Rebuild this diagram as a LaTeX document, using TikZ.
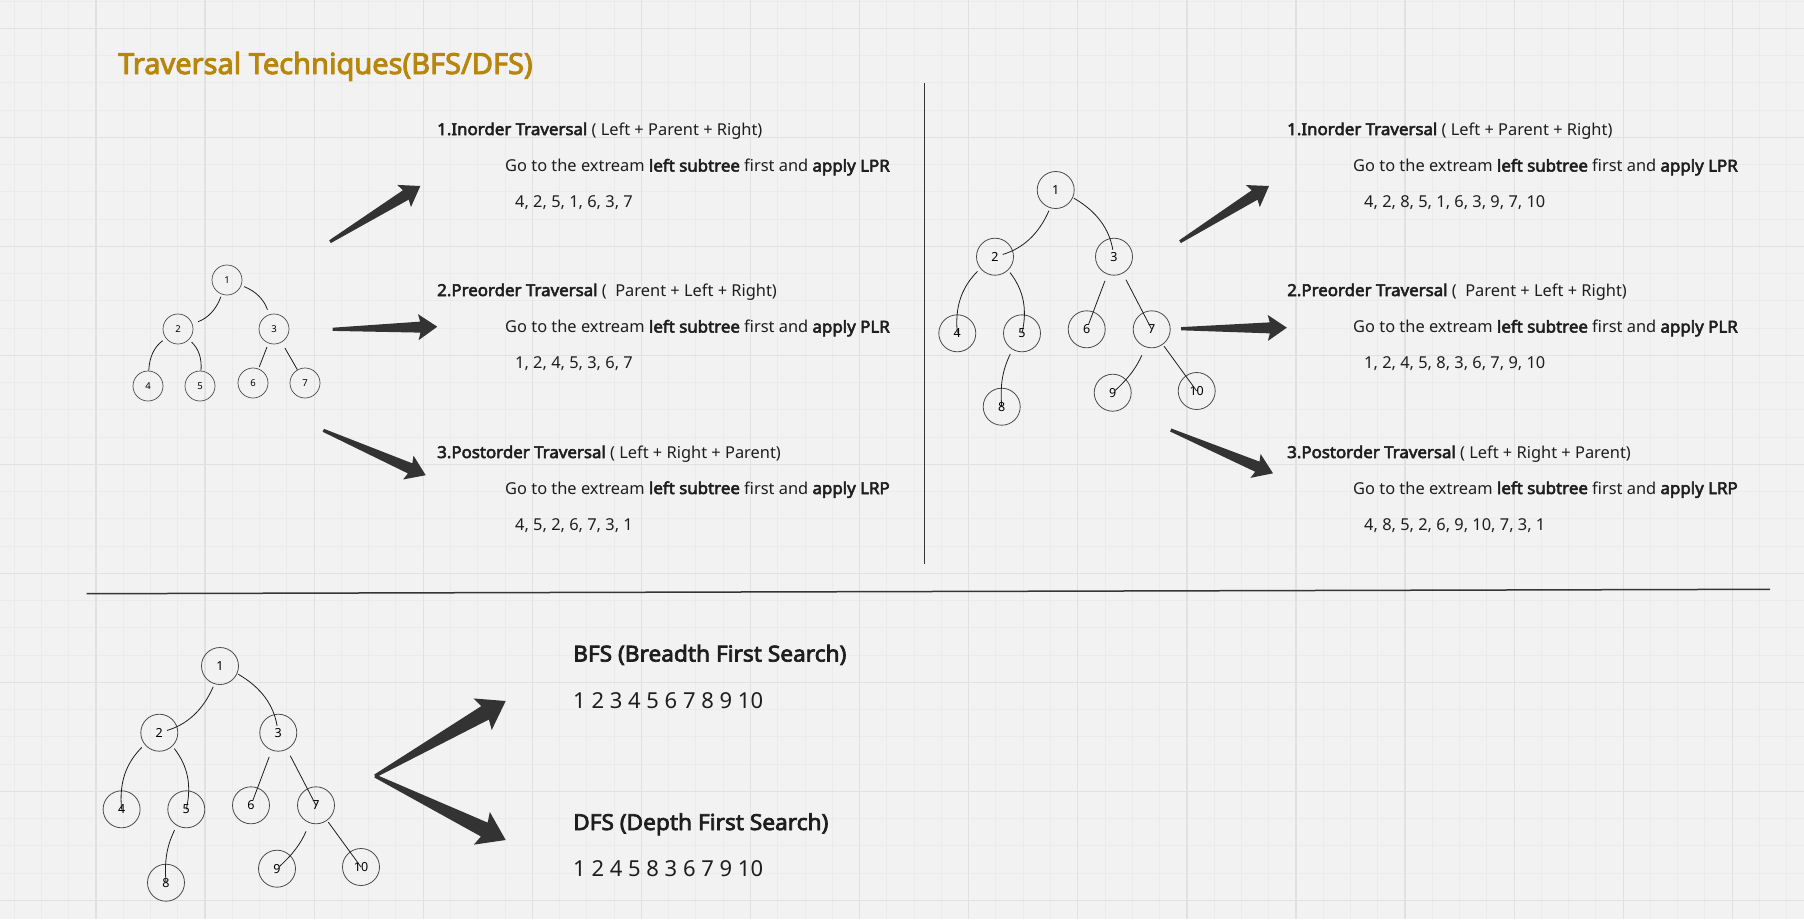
\documentclass[tikz,border=0pt]{standalone}
\usepackage{fontspec}
\setmainfont{Noto Sans}[BoldFont={Noto Sans}, BoldFeatures={FakeBold=3.2, FakeStretch=1.03}]
\newfontfamily\titlefont{Noto Sans}[FakeBold=3.2]
\usetikzlibrary{calc}
\definecolor{bgpaper}{RGB}{242,242,242}
\definecolor{gridminor}{RGB}{235,235,235}
\definecolor{gridmajor}{RGB}{225,225,225}
\definecolor{titlegold}{RGB}{184,134,11}
\definecolor{inkdark}{RGB}{30,30,30}
\definecolor{arrowdark}{RGB}{51,51,51}
\tikzset{
  bignode/.style={circle, draw=inkdark!80, line width=0.8pt, minimum size=37pt, inner sep=0pt, font=\fontsize{12.5}{14}\selectfont},
  smallnode/.style={circle, draw=inkdark!80, line width=0.7pt, minimum size=30pt, inner sep=0pt, font=\fontsize{9.5}{11}\selectfont},
  treeline/.style={draw=inkdark, line width=0.8pt},
  txt/.style={anchor=base west, inner sep=0pt, text=inkdark, font=\fontsize{16.4}{20}\selectfont},
  bigtxt/.style={txt, font=\fontsize{22}{26}\selectfont},
  divider/.style={draw=inkdark!90, line width=1.5pt},
}
% tapered arrow: [size]{tail}{tip}
\newcommand{\fatarrow}[3][1]{%
  \pgfmathsetmacro{\fabarb}{19*#1}%
  \pgfmathsetmacro{\faneck}{17*#1}%
  \pgfmathsetmacro{\fawide}{13*#1}%
  \pgfmathsetmacro{\fashaft}{5.5*#1}%
  \coordinate (fa-b) at ($(#3)!\fabarb pt!(#2)$);
  \coordinate (fa-n) at ($(#3)!\faneck pt!(#2)$);
  \fill[arrowdark] (#3) -- ($(fa-b)!\fawide pt!90:(#3)$) -- ($(fa-n)!\fashaft pt!90:(#3)$)
    -- ($(#2)!1.6pt!90:(#3)$) -- ($(#2)!1.6pt!-90:(#3)$)
    -- ($(fa-n)!\fashaft pt!-90:(#3)$) -- ($(fa-b)!\fawide pt!-90:(#3)$) -- cycle;
}

\begin{document}
\begin{tikzpicture}[x=1pt, y=-1pt]
    \useasboundingbox (0,0) rectangle (1804,919);
    \fill[bgpaper] (0,0) rectangle (1804,919);
    % grid
    \foreach \i in {0,...,65} \draw[gridminor, line width=1pt] ({14.2+\i*27.27},0) -- ({14.2+\i*27.27},919);
    \foreach \i in {0,...,33} \draw[gridminor, line width=1pt] (0,{1.05+\i*27.25}) -- (1804,{1.05+\i*27.25});
    \foreach \i in {1,...,16} \draw[gridmajor, line width=1.2pt] ({-13.1+\i*109.09},0) -- ({-13.1+\i*109.09},919);
    \foreach \i in {0,...,8} \draw[gridmajor, line width=1.2pt] (0,{28.3+\i*109}) -- (1804,{28.3+\i*109});

    \node[anchor=base west, inner sep=0pt, text=titlegold, font=\titlefont\fontsize{29}{34}\selectfont] (title) at (118,74) {Traversal Techniques(BFS/DFS)};

    % small tree
    \foreach \n/\x/\y in {1/227/280, 2/178/329, 3/274/329, 4/148/386, 5/200/386, 6/253/383, 7/305/383}
        \node[smallnode] (s-\n) at (\x,\y) {\n};
    \foreach \a/\b/\bd/\s/\e in {1/2/-25/2.5/6, 1/3/-25/3/5, 2/4/25/4/0, 2/5/-25/3.5/0, 3/6/0/4/2, 3/7/0/6.5/0}
        \draw[treeline, shorten <=\s pt, shorten >=\e pt] (s-\a) to[bend right=\bd] (s-\b);

    % big trees
    \foreach \pre/\sx/\sy in {m-/1055.7/190, b-/220/666} {
        \begin{scope}[shift={(\sx,\sy)}, name prefix=\pre]
            \foreach \n/\x/\y in {1/0/0, 2/-60.7/66.7, 3/58.3/66.7, 4/-98.4/143.3, 5/-33.7/143.3, 6/31/139.3, 7/96/139.3, 8/-54/216.7, 9/57/202.7, 10/141/201}
                \node[bignode] (\n) at (\x,\y) {\n};
            \foreach \a/\b/\bd/\s/\e in {1/2/-25/3/8, 1/3/-25/1/7, 2/4/25/4/0, 2/5/-25/3/0, 3/6/0/7/5, 3/7/0/7/0, 5/8/15/5/0, 7/9/-12/9/3, 7/10/0/2/0}
                \draw[treeline, shorten <=\s pt, shorten >=\e pt] (\a) to[bend right=\bd] (\b);
        \end{scope}
    }

    % dividers
    \draw[divider] (924.3,83.3) -- (924.3,563.7);
    \draw[divider] (86.7,593.7) -- (1770,589.3);

    % left column
    \node[txt] (l-in) at (437,135) {\textbf{1.Inorder Traversal} ( Left + Parent + Right)};
    \node[txt] (l-in-rule) at (505,171.5) {Go to the extream \textbf{left subtree} first and \textbf{apply LPR}};
    \node[txt] (l-in-seq) at (515,207.5) {4, 2, 5, 1, 6, 3, 7};
    \node[txt] (l-pre) at (437,296) {\textbf{2.Preorder Traversal} (~ Parent + Left + Right)};
    \node[txt] (l-pre-rule) at (505,332.5) {Go to the extream \textbf{left subtree} first and \textbf{apply PLR}};
    \node[txt] (l-pre-seq) at (515,368.5) {1, 2, 4, 5, 3, 6, 7};
    \node[txt] (l-post) at (437,458) {\textbf{3.Postorder Traversal} ( Left + Right + Parent)};
    \node[txt] (l-post-rule) at (505,494) {Go to the extream \textbf{left subtree} first and \textbf{apply LRP}};
    \node[txt] (l-post-seq) at (515,530) {4, 5, 2, 6, 7, 3, 1};

    % right column
    \node[txt] (r-in) at (1287,135) {\textbf{1.Inorder Traversal} ( Left + Parent + Right)};
    \node[txt] (r-in-rule) at (1353,171.5) {Go to the extream \textbf{left subtree} first and \textbf{apply LPR}};
    \node[txt] (r-in-seq) at (1364,207.5) {4, 2, 8, 5, 1, 6, 3, 9, 7, 10};
    \node[txt] (r-pre) at (1287,296) {\textbf{2.Preorder Traversal} (~ Parent + Left + Right)};
    \node[txt] (r-pre-rule) at (1353,332.5) {Go to the extream \textbf{left subtree} first and \textbf{apply PLR}};
    \node[txt] (r-pre-seq) at (1364,368.5) {1, 2, 4, 5, 8, 3, 6, 7, 9, 10};
    \node[txt] (r-post) at (1287,458) {\textbf{3.Postorder Traversal} ( Left + Right + Parent)};
    \node[txt] (r-post-rule) at (1353,494) {Go to the extream \textbf{left subtree} first and \textbf{apply LRP}};
    \node[txt] (r-post-seq) at (1364,530) {4, 8, 5, 2, 6, 9, 10, 7, 3, 1};

    % bottom
    \node[bigtxt] (bfs) at (573,661.5) {\textbf{BFS (Breadth First Search)}};
    \node[bigtxt] (bfs-seq) at (573,708) {1 2 3 4 5 6 7 8 9 10};
    \node[bigtxt] (dfs) at (573,830) {\textbf{DFS (Depth First Search)}};
    \node[bigtxt] (dfs-seq) at (573,876) {1 2 4 5 8 3 6 7 9 10};

    % arrows
    \coordinate (la1) at (330,241.7);   \coordinate (la1t) at (420.3,186);
    \coordinate (la2) at (332.7,329.3); \coordinate (la2t) at (437.3,326.7);
    \coordinate (la3) at (323.3,430.3); \coordinate (la3t) at (425.7,475.2);
    \coordinate (ra1) at (1180,241.7);  \coordinate (ra1t) at (1269,186);
    \coordinate (ra2) at (1181,328.7);  \coordinate (ra2t) at (1286.8,327.7);
    \coordinate (ra3) at (1170.7,430);  \coordinate (ra3t) at (1273,473.3);
    \coordinate (apex) at (375,776);
    \coordinate (bfs-tip) at (505.7,701); \coordinate (dfs-tip) at (505.7,840);
    \fatarrow{la1}{la1t}
    \fatarrow{la2}{la2t}
    \fatarrow{la3}{la3t}
    \fatarrow{ra1}{ra1t}
    \fatarrow{ra2}{ra2t}
    \fatarrow{ra3}{ra3t}
    \fatarrow[1.4]{apex}{bfs-tip}
    \fatarrow[1.4]{apex}{dfs-tip}
\end{tikzpicture}
\end{document}
